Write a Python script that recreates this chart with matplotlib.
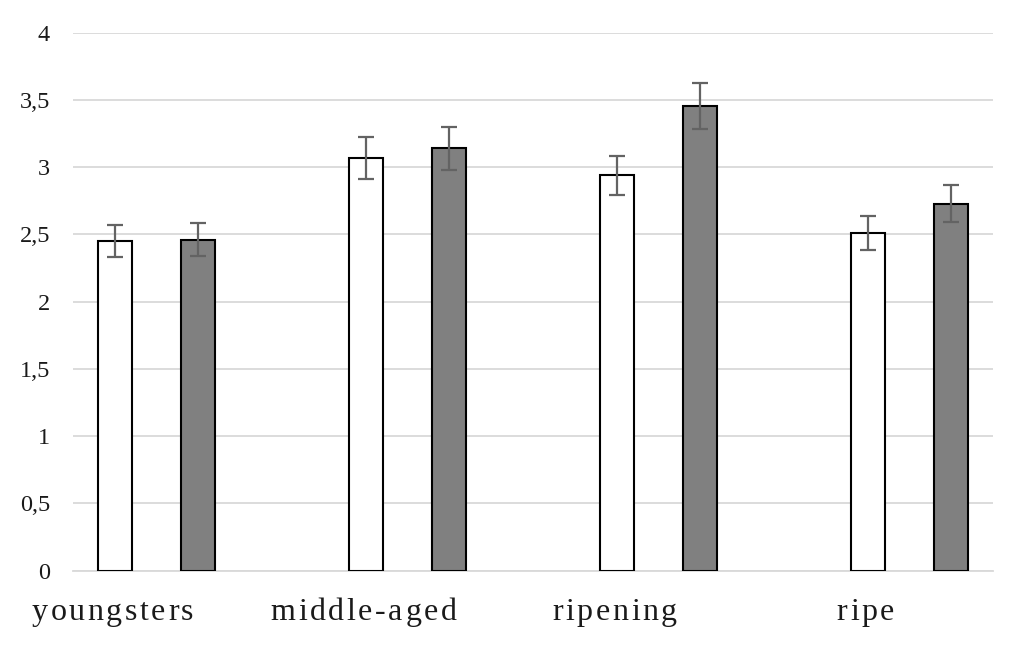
import numpy as np
import matplotlib
matplotlib.use("Agg")
import matplotlib.pyplot as plt
from matplotlib.font_manager import FontProperties

plt.rcParams["font.family"] = ["Liberation Serif", "DejaVu Serif"]

# Data
categories = ["youngsters", "middle-aged", "ripening", "ripe"]
white_vals = [2.45, 3.07, 2.94, 2.51]
white_err = [0.12, 0.155, 0.145, 0.125]
grey_vals = [2.46, 3.14, 3.455, 2.73]
grey_err = [0.123, 0.158, 0.174, 0.137]
y_ticks = [0, 0.5, 1, 1.5, 2, 2.5, 3, 3.5, 4]
y_tick_labels = ["0", "0,5", "1", "1,5", "2", "2,5", "3", "3,5", "4"]

W, H = 1024, 645
fig = plt.figure(figsize=(W / 100, H / 100), dpi=100)
ax = fig.add_axes([73 / W, (H - 570.7) / H, (993 - 73) / W, (570.7 - 32.7) / H])

x = np.arange(len(categories))
bw = 0.135
off = 0.165

errkw = dict(ecolor="#636363", elinewidth=1.6, capsize=5.5, capthick=1.6)
ax.bar(x - off, white_vals, bw, color="white", edgecolor="black", linewidth=1.5,
       yerr=white_err, error_kw=errkw, zorder=3)
ax.bar(x + off, grey_vals, bw, color="#808080", edgecolor="black", linewidth=1.5,
       yerr=grey_err, error_kw=errkw, zorder=3)

ax.set_xlim(-0.333, 3.333)
ax.set_ylim(0, 4)
ax.set_yticks(y_ticks)
ax.set_yticklabels(y_tick_labels, color="#1a1a1a")
tick_prop = FontProperties(family="Liberation Serif", size=17.5)
for t in ax.get_yticklabels():
    t.set_fontproperties(tick_prop)
ax.tick_params(axis="y", length=0, pad=16.5)
ax.set_xticks([])
ax.yaxis.grid(True, color="#d9d9d9", linewidth=1.3, zorder=0)
ax.set_axisbelow(True)
for s in ["top", "right", "left"]:
    ax.spines[s].set_visible(False)
ax.spines["bottom"].set_color("#d9d9d9")
ax.spines["bottom"].set_linewidth(1.3)

# category labels with letter spacing, drawn char by char
prop = FontProperties(family="Liberation Serif", size=23)
renderer = fig.canvas.get_renderer()
spacing = 2.6
baseline = 620
for i, label in enumerate(categories):
    cx = ax.transData.transform((i - 0.175, 0))[0]
    widths = [renderer.get_text_width_height_descent(c, prop, ismath=False)[0] for c in label]
    total = sum(widths) + spacing * (len(label) - 1)
    px = cx - total / 2
    for c, w in zip(label, widths):
        fig.text(px / W, (H - baseline) / H, c, fontproperties=prop,
                 ha="left", va="baseline", color="#1a1a1a")
        px += w + spacing

fig.savefig("out.png", dpi=100, facecolor="white")
